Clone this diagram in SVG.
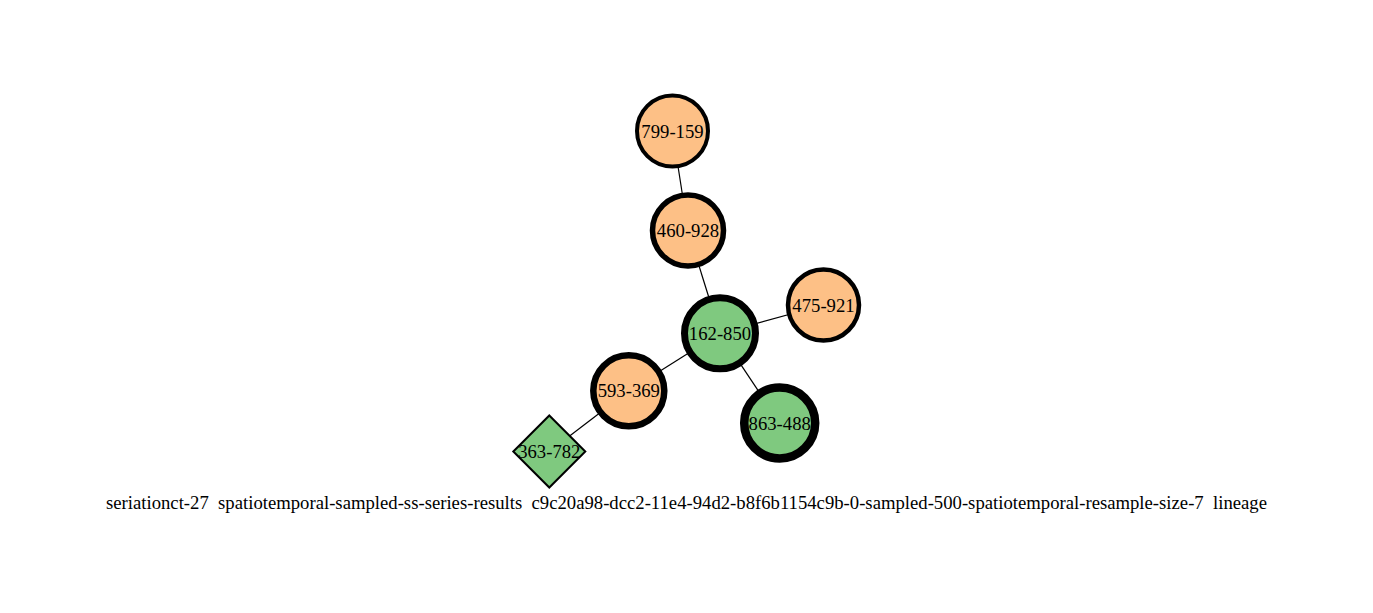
<svg xmlns="http://www.w3.org/2000/svg" width="1373" height="613" viewBox="0 0 1373 613">
<style>
.o{fill:#fdc086;stroke:#000}
.g{fill:#7fc97f;stroke:#000}
.t{font-family:"Liberation Serif","Times New Roman",serif;font-size:18.7px;text-anchor:middle;fill:#000;white-space:pre}
.e{stroke:#000;stroke-width:1.2;fill:none}
</style>
<rect width="1373" height="613" fill="#fff"/>
<g id="edges">
<line class="e" x1="672.5" y1="131" x2="688" y2="230.5"/>
<line class="e" x1="688" y1="230.5" x2="720" y2="333.3"/>
<line class="e" x1="720" y1="333.3" x2="823.5" y2="305"/>
<line class="e" x1="720" y1="333.3" x2="628.8" y2="390.8"/>
<line class="e" x1="720" y1="333.3" x2="779.7" y2="423"/>
<line class="e" x1="628.8" y1="390.8" x2="549.3" y2="451.5"/>
</g>
<g id="n799-159"><circle class="o" cx="672.5" cy="131" r="35.5" stroke-width="4"/><text class="t" x="672.5" y="137.5">799-159</text></g>
<g id="n460-928"><circle class="o" cx="688" cy="230.5" r="35.5" stroke-width="5.5"/><text class="t" x="688" y="237">460-928</text></g>
<g id="n475-921"><circle class="o" cx="823.5" cy="305" r="35.5" stroke-width="4.5"/><text class="t" x="823.5" y="311.5">475-921</text></g>
<g id="n162-850"><circle class="g" cx="720" cy="333.3" r="35.5" stroke-width="7"/><text class="t" x="720" y="339.8">162-850</text></g>
<g id="n593-369"><circle class="o" cx="628.8" cy="390.8" r="35.5" stroke-width="6.5"/><text class="t" x="628.8" y="397.3">593-369</text></g>
<g id="n863-488"><circle class="g" cx="779.7" cy="423" r="35.5" stroke-width="8.5"/><text class="t" x="779.7" y="429.5">863-488</text></g>
<g id="n363-782"><polygon class="g" points="549.3,415.5 585.3,451.5 549.3,487.5 513.3,451.5" stroke-width="2"/><text class="t" x="549.3" y="458">363-782</text></g>
<text class="t" x="686.5" y="509" xml:space="preserve">seriationct-27  spatiotemporal-sampled-ss-series-results  c9c20a98-dcc2-11e4-94d2-b8f6b1154c9b-0-sampled-500-spatiotemporal-resample-size-7  lineage</text>
</svg>
